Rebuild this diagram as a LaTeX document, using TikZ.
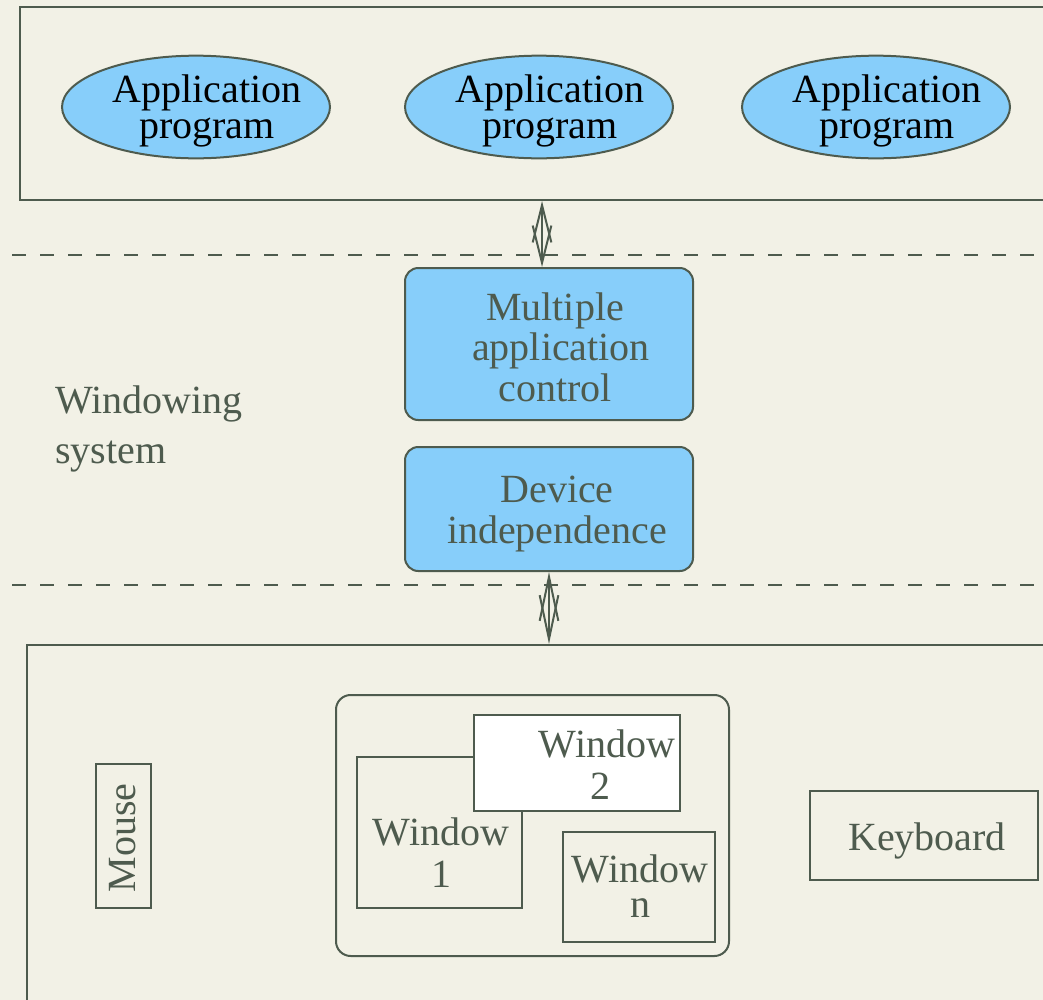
\documentclass[tikz,border=0pt]{standalone}
\usepackage{fontspec}
\setmainfont{Liberation Serif}
\usetikzlibrary{arrows.meta,shapes.geometric}
\definecolor{bg}{HTML}{F2F1E6}
\definecolor{ln}{HTML}{4E5B4E}
\definecolor{sky}{HTML}{87CEFA}
\begin{document}
\begin{tikzpicture}[x=0.75pt,y=-0.75pt,
  frame/.style={draw=ln, line width=1.5pt, inner sep=0pt},
  app/.style={frame, ellipse, fill=sky, minimum width=201pt, minimum height=77pt},
  apptext/.style={text=black, align=center, inner sep=0pt,
    font=\fontsize{30}{26.5}\selectfont},
  ctl/.style={frame, rounded corners=10pt, fill=sky, minimum width=216pt},
  lbl/.style={text=ln, align=center, inner sep=0pt, font=\fontsize{30}{31.5}\selectfont},
  sep/.style={draw=ln, line width=1.5pt, dash pattern=on 10.5pt off 10.5pt},
  dbl/.style={draw=ln, line width=1.5pt,
    {Straight Barb[length=#1, width=14pt, line width=1.5pt]}-{Straight Barb[length=#1, width=14pt, line width=1.5pt]}}
]
\fill[bg] (0,0) rectangle (1043,1000);
\useasboundingbox (0,0) rectangle (1043,1000);

% top layer
\node[frame, minimum width=787.5pt, minimum height=144.75pt] (top) at (545,103.5) {};
\node[app] (a1) at (196,107) {};
\node[app] (a2) at (539,107) {};
\node[app] (a3) at (876,107) {};
\node[apptext] (a1t) at (207,111) {Application\\program};
\node[apptext] (a2t) at (550,111) {Application\\program};
\node[apptext] (a3t) at (887,111) {Application\\program};

% separators
\draw[sep] (12,255) -- (1043,255);
\draw[sep] (12,585) -- (1043,585);

% windowing system
\node[lbl, align=left, anchor=west, font=\fontsize{30}{37}\selectfont] (ws) at (55,429) {Windowing\\system};
\node[ctl, minimum height=114pt] (mac) at (549,344) {};
\node[ctl, minimum height=93pt] (dev) at (549,509) {};
\node[lbl, font=\fontsize{30}{30.5}\selectfont] (mact) at (555,347) {Multiple\\\hspace*{9pt}application\\control};
\node[lbl, font=\fontsize{30}{30.5}\selectfont] (devt) at (557,514) {Device\\independence};

% bottom layer
\node[frame, minimum width=782.25pt, minimum height=281.25pt] (bot) at (548.5,832.5) {};
\node[frame, rounded corners=11pt, minimum width=294.75pt, minimum height=195.75pt] (scr) at (532.5,825.5) {};
\node[frame, minimum width=123.75pt, minimum height=113.25pt] (w1) at (439.5,832.5) {};
\node[frame, fill=white, minimum width=154.5pt, minimum height=72pt] (w2) at (577,763) {};
\node[frame, minimum width=114pt, minimum height=82.5pt] (wn) at (639,887) {};
\node[lbl] (w1t) at (441,853) {Window\\1};
\node[lbl] (w2t) at (607,765) {Window\\\hspace*{-10pt}2};
\node[lbl, font=\fontsize{30}{26.5}\selectfont] (wnt) at (640,886) {Window\\n};
\node[frame, minimum width=108pt, minimum height=41.25pt, rotate=90] (mouse) at (123.5,836) {};
\node[lbl, rotate=90] (mouset) at (123,838) {Mouse};
\node[frame, minimum width=171pt, minimum height=66.75pt] (kbd) at (924,835.5) {};
\node[lbl] (kbdt) at (927,841) {Keyboard};

% connectors
\draw[dbl=28pt] ([xshift=-5.25pt]mac.north |- top.south) -- ([xshift=-5.25pt]mac.north);
\draw[dbl=33pt] (dev.south) -- (dev.south |- bot.north);
\end{tikzpicture}
\end{document}
